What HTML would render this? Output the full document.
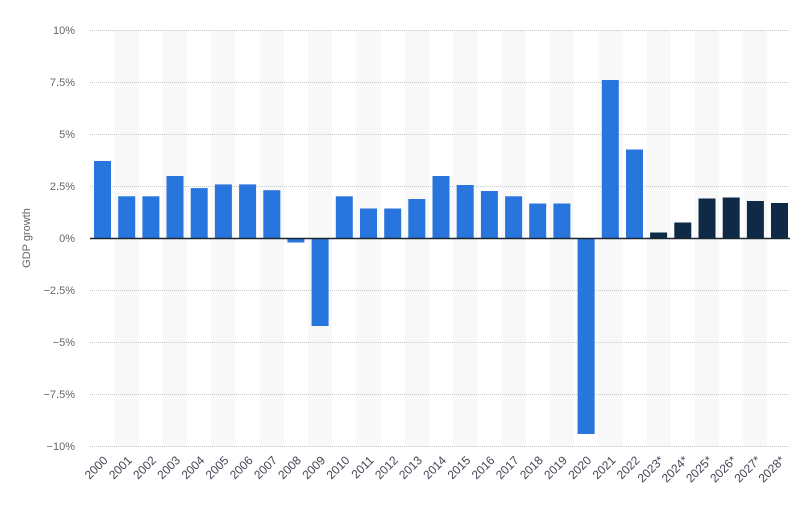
<!DOCTYPE html>
<html><head><meta charset="utf-8"><style>
html,body{margin:0;padding:0;background:#fff;}
svg{display:block;font-family:"Liberation Sans",sans-serif;}
</style></head><body>
<svg width="802" height="508" viewBox="0 0 802 508" xmlns="http://www.w3.org/2000/svg">
<g fill="#f8f8f8">
<rect x="114.6" y="30" width="24.2" height="417"/>
<rect x="162.9" y="30" width="24.2" height="417"/>
<rect x="211.3" y="30" width="24.2" height="417"/>
<rect x="259.7" y="30" width="24.2" height="417"/>
<rect x="308.0" y="30" width="24.2" height="417"/>
<rect x="356.4" y="30" width="24.2" height="417"/>
<rect x="404.7" y="30" width="24.2" height="417"/>
<rect x="453.1" y="30" width="24.2" height="417"/>
<rect x="501.5" y="30" width="24.2" height="417"/>
<rect x="549.8" y="30" width="24.2" height="417"/>
<rect x="598.2" y="30" width="24.2" height="417"/>
<rect x="646.5" y="30" width="24.2" height="417"/>
<rect x="694.9" y="30" width="24.2" height="417"/>
<rect x="743.3" y="30" width="24.2" height="417"/>
</g>
<g stroke="#c8c8c8" stroke-width="1" stroke-dasharray="1,1">
<line x1="90" x2="790" y1="30.5" y2="30.5"/>
<line x1="90" x2="790" y1="82.5" y2="82.5"/>
<line x1="90" x2="790" y1="134.5" y2="134.5"/>
<line x1="90" x2="790" y1="186.5" y2="186.5"/>
<line x1="90" x2="790" y1="290.5" y2="290.5"/>
<line x1="90" x2="790" y1="342.5" y2="342.5"/>
<line x1="90" x2="790" y1="394.5" y2="394.5"/>
<line x1="90" x2="790" y1="446.5" y2="446.5"/>
</g>
<g font-size="11" fill="#666" text-anchor="end">
<text x="75" y="34">10%</text>
<text x="75" y="86">7.5%</text>
<text x="75" y="138">5%</text>
<text x="75" y="190">2.5%</text>
<text x="75" y="242">0%</text>
<text x="75" y="294">−2.5%</text>
<text x="75" y="346">−5%</text>
<text x="75" y="398">−7.5%</text>
<text x="75" y="450">−10%</text>
</g>
<text transform="translate(30,238) rotate(-90)" font-size="11" fill="#666" text-anchor="middle">GDP growth</text>
<g fill="#2876dd">
<rect x="94" y="161" width="17" height="77"/>
<rect x="118.2" y="196.3" width="17" height="41.7"/>
<rect x="142.4" y="196.3" width="17" height="41.7"/>
<rect x="166.5" y="176" width="17" height="62"/>
<rect x="190.7" y="188.1" width="17" height="49.9"/>
<rect x="214.9" y="184.4" width="17" height="53.6"/>
<rect x="239.1" y="184.4" width="17" height="53.6"/>
<rect x="263.3" y="190.2" width="17" height="47.8"/>
<rect x="287.4" y="238" width="17" height="4.5"/>
<rect x="311.6" y="238" width="17" height="88"/>
<rect x="335.8" y="196.3" width="17" height="41.7"/>
<rect x="360.0" y="208.5" width="17" height="29.5"/>
<rect x="384.2" y="208.5" width="17" height="29.5"/>
<rect x="408.3" y="199" width="17" height="39"/>
<rect x="432.5" y="176" width="17" height="62"/>
<rect x="456.7" y="185" width="17" height="53"/>
<rect x="480.9" y="191" width="17" height="47"/>
<rect x="505.1" y="196.3" width="17" height="41.7"/>
<rect x="529.2" y="203.5" width="17" height="34.5"/>
<rect x="553.4" y="203.5" width="17" height="34.5"/>
<rect x="577.6" y="238" width="17" height="196"/>
<rect x="601.8" y="80" width="17" height="158"/>
<rect x="626.0" y="149.5" width="17" height="88.5"/>
</g>
<g fill="#0f2a47">
<rect x="650.1" y="232.5" width="17" height="5.5"/>
<rect x="674.3" y="222.5" width="17" height="15.5"/>
<rect x="698.5" y="198.5" width="17" height="39.5"/>
<rect x="722.7" y="197.5" width="17" height="40.5"/>
<rect x="746.9" y="201" width="17" height="37"/>
<rect x="771.0" y="203" width="17" height="35"/>
</g>
<line x1="90" x2="790" y1="238.5" y2="238.5" stroke="#1b2633" stroke-width="1.5"/>
<g font-size="12" fill="#445" text-anchor="end">
<text transform="translate(108.5,461) rotate(-45)">2000</text>
<text transform="translate(132.7,461) rotate(-45)">2001</text>
<text transform="translate(156.9,461) rotate(-45)">2002</text>
<text transform="translate(181.0,461) rotate(-45)">2003</text>
<text transform="translate(205.2,461) rotate(-45)">2004</text>
<text transform="translate(229.4,461) rotate(-45)">2005</text>
<text transform="translate(253.6,461) rotate(-45)">2006</text>
<text transform="translate(277.8,461) rotate(-45)">2007</text>
<text transform="translate(301.9,461) rotate(-45)">2008</text>
<text transform="translate(326.1,461) rotate(-45)">2009</text>
<text transform="translate(350.3,461) rotate(-45)">2010</text>
<text transform="translate(374.5,461) rotate(-45)">2011</text>
<text transform="translate(398.7,461) rotate(-45)">2012</text>
<text transform="translate(422.8,461) rotate(-45)">2013</text>
<text transform="translate(447.0,461) rotate(-45)">2014</text>
<text transform="translate(471.2,461) rotate(-45)">2015</text>
<text transform="translate(495.4,461) rotate(-45)">2016</text>
<text transform="translate(519.6,461) rotate(-45)">2017</text>
<text transform="translate(543.7,461) rotate(-45)">2018</text>
<text transform="translate(567.9,461) rotate(-45)">2019</text>
<text transform="translate(592.1,461) rotate(-45)">2020</text>
<text transform="translate(616.3,461) rotate(-45)">2021</text>
<text transform="translate(640.5,461) rotate(-45)">2022</text>
<text transform="translate(664.6,461) rotate(-45)">2023*</text>
<text transform="translate(688.8,461) rotate(-45)">2024*</text>
<text transform="translate(713.0,461) rotate(-45)">2025*</text>
<text transform="translate(737.2,461) rotate(-45)">2026*</text>
<text transform="translate(761.4,461) rotate(-45)">2027*</text>
<text transform="translate(785.5,461) rotate(-45)">2028*</text>
</g>
</svg>
</body></html>
